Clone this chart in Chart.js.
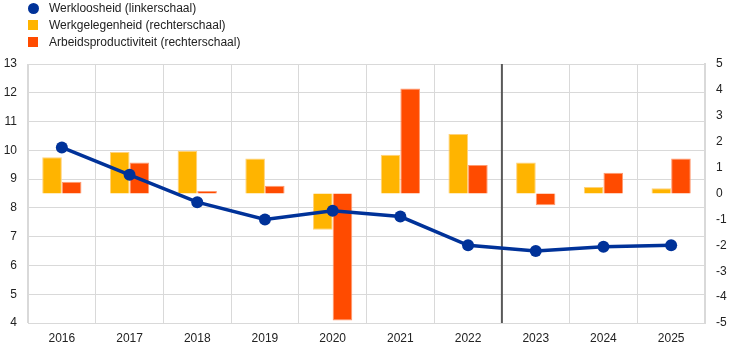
<!DOCTYPE html>
<html>
<head>
<meta charset="utf-8">
<script src="https://cdn.jsdelivr.net/npm/chart.js@4"></script>
<style>
  html, body { margin: 0; padding: 0; background: #fff; }
  #wrap { position: relative; width: 744px; height: 352px; }
  #legend { position: absolute; left: 0; top: 0; font-family: "Liberation Sans", Arial, sans-serif; font-size: 12px; color: #222; }
  .item { position: absolute; white-space: nowrap; left: 49px; line-height: 14px; }
  .mk { position: absolute; }
</style>
</head>
<body>
<div id="wrap">
  <canvas id="c" width="744" height="352"></canvas>
  <div id="legend"></div>
</div>
<script>
const categories = ["2016","2017","2018","2019","2020","2021","2022","2023","2024","2025"];
const unemployment = [10.1, 9.15, 8.2, 7.6, 7.9, 7.7, 6.7, 6.5, 6.65, 6.7];
const employment = [1.4, 1.6, 1.65, 1.35, -1.4, 1.5, 2.3, 1.2, 0.25, 0.2];
const productivity = [0.45, 1.2, 0.1, 0.3, -4.9, 4.05, 1.1, -0.45, 0.8, 1.35];
const seriesNames = ["Werkloosheid (linkerschaal)", "Werkgelegenheid (rechterschaal)", "Arbeidsproductiviteit (rechterschaal)"];
const leftTicks = [4,5,6,7,8,9,10,11,12,13];
const rightTicks = [-5,-4,-3,-2,-1,0,1,2,3,4,5];
const projectionStartIndex = 6.5;

const BLUE = "#003299", YELLOW = "#FFB400", RED = "#FF4B00";

// HTML legend
const legend = document.getElementById("legend");
const legendDefs = [
  {name: seriesNames[0], color: BLUE, shape: "circle", y: 8},
  {name: seriesNames[1], color: YELLOW, shape: "square", y: 25},
  {name: seriesNames[2], color: RED, shape: "square", y: 42}
];
legendDefs.forEach(d => {
  const m = document.createElement("div");
  m.className = "mk";
  if (d.shape === "circle") {
    m.style.cssText = `left:28px;top:${d.y-5}px;width:11px;height:11px;border-radius:50%;background:${d.color};`;
  } else {
    m.style.cssText = `left:28px;top:${d.y-5}px;width:10px;height:10px;background:${d.color};`;
  }
  legend.appendChild(m);
  const t = document.createElement("div");
  t.className = "item";
  t.style.top = (d.y - 7) + "px";
  t.textContent = d.name;
  legend.appendChild(t);
});

const sepPlugin = {
  id: "sep",
  beforeDatasetsDraw(chart) {
    const x = chart.scales.x.getPixelForValue(projectionStartIndex);
    const a = chart.chartArea, ctx = chart.ctx;
    ctx.save();
    ctx.strokeStyle = "#595959";
    ctx.lineWidth = 2;
    ctx.beginPath();
    ctx.moveTo(x, a.top);
    ctx.lineTo(x, a.bottom);
    ctx.stroke();
    ctx.restore();
  }
};

const font = {family: "'Liberation Sans', Arial, sans-serif", size: 12};

new Chart(document.getElementById("c"), {
  data: {
    labels: categories,
    datasets: [
      {type: "line", label: seriesNames[0], data: unemployment, yAxisID: "y", order: 0,
       borderColor: BLUE, backgroundColor: BLUE, borderWidth: 3.5, pointRadius: 6,
       pointBackgroundColor: BLUE, pointBorderWidth: 0, tension: 0},
      {type: "bar", label: seriesNames[1], data: employment, yAxisID: "y1", order: 1,
       backgroundColor: YELLOW, borderColor: "#FFD27A", borderWidth: 1,
       barPercentage: 1.0, categoryPercentage: 0.58},
      {type: "bar", label: seriesNames[2], data: productivity, yAxisID: "y1", order: 1,
       backgroundColor: RED, borderColor: "#FF9A70", borderWidth: 1,
       barPercentage: 1.0, categoryPercentage: 0.58}
    ]
  },
  options: {
    responsive: false,
    animation: false,
    devicePixelRatio: 1,
    layout: {padding: {top: 64, left: 0, right: 0, bottom: 0}},
    plugins: {legend: {display: false}, tooltip: {enabled: false}},
    scales: {
      x: {
        offset: true,
        grid: {display: true, offset: true, color: "#d9d9d9", lineWidth: 1, drawTicks: false},
        border: {display: true, color: "#d9d9d9", width: 1},
        ticks: {font, color: "#222", padding: 8, maxRotation: 0},
        afterFit(s) { s.height = 29; }
      },
      y: {
        position: "left", min: 4, max: 13,
        afterBuildTicks(s) { s.ticks = leftTicks.map(v => ({value: v})); },
        grid: {color: "#d9d9d9", lineWidth: 1, drawTicks: false},
        border: {display: true, color: "#d9d9d9", width: 1},
        ticks: {font, color: "#222", padding: 11},
        afterFit(s) { s.width = 28; }
      },
      y1: {
        position: "right", min: -5, max: 5,
        afterBuildTicks(s) { s.ticks = rightTicks.map(v => ({value: v})); },
        grid: {display: false, drawTicks: false},
        border: {display: true, color: "#d9d9d9", width: 2},
        ticks: {font, color: "#222", padding: 11},
        afterFit(s) { s.width = 39; }
      }
    }
  },
  plugins: [sepPlugin]
});
</script>
</body>
</html>
